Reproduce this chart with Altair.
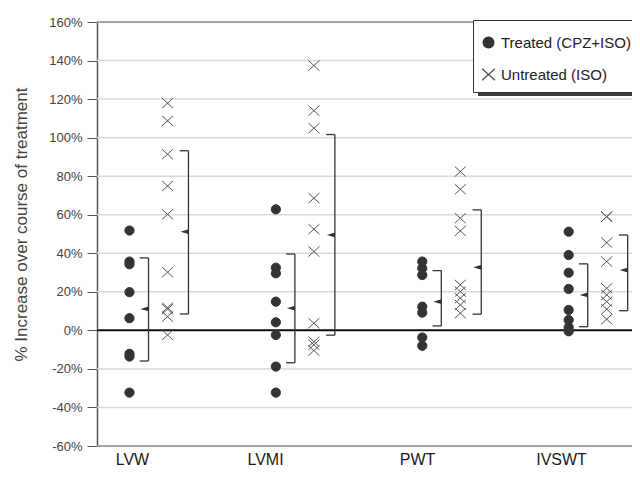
import altair as alt
import pandas as pd

FONT = "Liberation Sans"

categories = ["LVW", "LVMI", "PWT", "IVSWT"]
category_index = [1, 2, 3, 4]
label_positions = [0.887, 1.796, 2.834, 3.818]
groups = ["Treated (CPZ+ISO)", "Untreated (ISO)"]
y_ticks = [-60, -40, -20, 0, 20, 40, 60, 80, 100, 120, 140, 160]

lvw_treated = [51.8, 35.7, 34.3, 19.8, 6.3, -12.2, -13.6, -32.3]
lvmi_treated = [62.8, 32.5, 29.6, 14.9, 4.2, -2.4, -18.8, -32.3]
pwt_treated = [35.7, 32.2, 28.7, 12.3, 9.2, -3.7, -8.0]
ivswt_treated = [51.2, 39.1, 29.9, 21.5, 10.6, 5.4, 1.6, -0.5]

lvw_untreated = [117.9, 108.7, 91.4, 74.9, 60.2, 30.2, 11.8, 11.0, 7.1, -2.4]
lvmi_untreated = [137.4, 114.0, 104.9, 68.6, 52.5, 40.9, 3.7, -5.9, -7.5, -10.5]
pwt_untreated = [82.4, 73.2, 58.2, 51.6, 23.6, 20.1, 16.7, 13.2, 8.9]
ivswt_untreated = [59.0, 59.0, 45.5, 35.7, 21.8, 18.4, 14.9, 11.0, 5.8]

bracket_top_treated = [37.6, 39.6, 31.0, 34.5]
bracket_mean_treated = [11.1, 11.5, 14.9, 18.4]
bracket_bottom_treated = [-15.9, -16.8, 2.3, 1.9]
bracket_top_untreated = [93.2, 101.6, 62.5, 49.5]
bracket_mean_untreated = [51.2, 49.5, 32.7, 31.3]
bracket_bottom_untreated = [8.5, -2.5, 8.4, 10.2]

# ---- tables built from the arrays ----
rows = []
for ci, tv, uv in zip(category_index,
                      [lvw_treated, lvmi_treated, pwt_treated, ivswt_treated],
                      [lvw_untreated, lvmi_untreated, pwt_untreated, ivswt_untreated]):
    rows += [{"cat": ci, "group": groups[0], "value": v} for v in tv]
    rows += [{"cat": ci, "group": groups[1], "value": v} for v in uv]
pts = pd.DataFrame(rows)

brows = []
for i, ci in enumerate(category_index):
    brows.append({"cat": ci, "g": 0, "top": bracket_top_treated[i],
                  "mean": bracket_mean_treated[i], "bottom": bracket_bottom_treated[i]})
    brows.append({"cat": ci, "g": 1, "top": bracket_top_untreated[i],
                  "mean": bracket_mean_untreated[i], "bottom": bracket_bottom_untreated[i]})
br = pd.DataFrame(brows)

grid_df = pd.DataFrame({"v": y_ticks})
zero_df = pd.DataFrame({"v": [0]})
edge_df = pd.DataFrame({"v": [y_ticks[0], y_ticks[-1]]})

xscale = alt.Scale(domain=[0.6482, 4.3026], nice=False, zero=False)
yscale = alt.Scale(domain=[y_ticks[0], y_ticks[-1]], nice=False, zero=False)

# label expression built from the category lists
label_expr = "''"
for p, c in reversed(list(zip(label_positions, categories))):
    label_expr = f"(abs(datum.value - {p}) < 0.01 ? '{c}' : {label_expr})"

xaxis = alt.Axis(values=label_positions, labelExpr=label_expr,
                 domain=False, ticks=False, grid=False, title=None,
                 labelFont=FONT, labelFontSize=16, labelColor="#1a1a1a", labelPadding=5)
yaxis = alt.Axis(values=y_ticks, labelExpr="datum.value + '%'", labelOverlap=False,
                 grid=False, domainColor="#555555", domainWidth=1.5,
                 tickColor="#555555", tickSize=10, tickWidth=1,
                 labelFont=FONT, labelFontSize=13, labelColor="#444444", labelPadding=5,
                 title="% Increase over course of treatment", titleFont=FONT,
                 titleFontSize=17, titleFontWeight="normal", titleColor="#444444",
                 titleX=-76, titleY=202, titleAngle=270, titleBaseline="middle", titleAlign="center")

# horizontal grid lines, border lines and zero line, on the y scale
grid = alt.Chart(grid_df).mark_rule(color="#d9d9d9", strokeWidth=1.5).encode(
    y=alt.Y("v:Q", scale=yscale, axis=yaxis))
edges = alt.Chart(edge_df).mark_rule(color="#8f8f8f", strokeWidth=1.4).encode(
    y=alt.Y("v:Q", scale=yscale, axis=yaxis))
zero_rule = alt.Chart(zero_df).mark_rule(color="#111111", strokeWidth=2).encode(
    y=alt.Y("v:Q", scale=yscale, axis=yaxis))

bbase = alt.Chart(br).transform_calculate(
    xb="datum.cat + (datum.g == 0 ? 0 : 0.273)"
).transform_calculate(
    xt="datum.xb - 0.06"
)
bracket_v = bbase.mark_rule(color="#333333", strokeWidth=1.3).encode(
    x=alt.X("xb:Q", scale=xscale, axis=xaxis), y=alt.Y("top:Q", scale=yscale, axis=yaxis), y2="bottom:Q")
bracket_t = bbase.mark_rule(color="#333333", strokeWidth=1.3).encode(
    x=alt.X("xt:Q", scale=xscale, axis=xaxis), x2="xb:Q", y=alt.Y("top:Q", scale=yscale, axis=yaxis))
bracket_b = bbase.mark_rule(color="#333333", strokeWidth=1.3).encode(
    x=alt.X("xt:Q", scale=xscale, axis=xaxis), x2="xb:Q", y=alt.Y("bottom:Q", scale=yscale, axis=yaxis))
tri = bbase.mark_point(shape="M1,-0.6L-1,0L1,0.6Z", filled=True, color="#333333",
                       size=64, opacity=1, xOffset=-4).encode(
    x=alt.X("xb:Q", scale=xscale, axis=xaxis), y=alt.Y("mean:Q", scale=yscale, axis=yaxis))

shadow = alt.Chart(zero_df).mark_rect(color="#1a1a1a", opacity=0.85).encode(
    x=alt.value(381), x2=alt.value(560), y=alt.value(68), y2=alt.value(74))

xpath = "M-1.2,-1.1L1.2,1.1M-1.2,1.1L1.2,-1.1"
legend = alt.Legend(title=" ", titleFontSize=7, titlePadding=0, orient="none",
                    legendX=376, legendY=-2,
                    fillColor="white", strokeColor="#333333", padding=8,
                    rowPadding=14, labelFont=FONT, labelFontSize=15, labelColor="#222222",
                    labelLimit=0, symbolSize=113, symbolStrokeWidth=1.4, labelOffset=5)

points = alt.Chart(pts).transform_calculate(
    x=f"datum.cat + (datum.group == '{groups[0]}' ? -0.13 : 0.13)"
).mark_point(opacity=1, strokeWidth=1, size=85).encode(
    x=alt.X("x:Q", scale=xscale, axis=xaxis),
    y=alt.Y("value:Q", scale=yscale, axis=yaxis),
    shape=alt.Shape("group:N", scale=alt.Scale(domain=groups, range=["circle", xpath]), legend=legend),
    fill=alt.Fill("group:N", scale=alt.Scale(domain=groups, range=["#333333", "transparent"]), legend=legend),
    stroke=alt.Stroke("group:N", scale=alt.Scale(domain=groups, range=["#333333", "#555555"]), legend=legend),
)

chart = alt.layer(
    grid, edges, zero_rule,
    bracket_v, bracket_t, bracket_b, tri, points, shadow
).properties(
    width=535, height=424,
    autosize=alt.AutoSizeParams(type="none"),
    padding={"left": 89, "top": 14, "right": 0, "bottom": 24},
    background="white",
).configure_view(stroke=None)

chart.save("out.html", embed_options={"renderer": "svg", "actions": False})
